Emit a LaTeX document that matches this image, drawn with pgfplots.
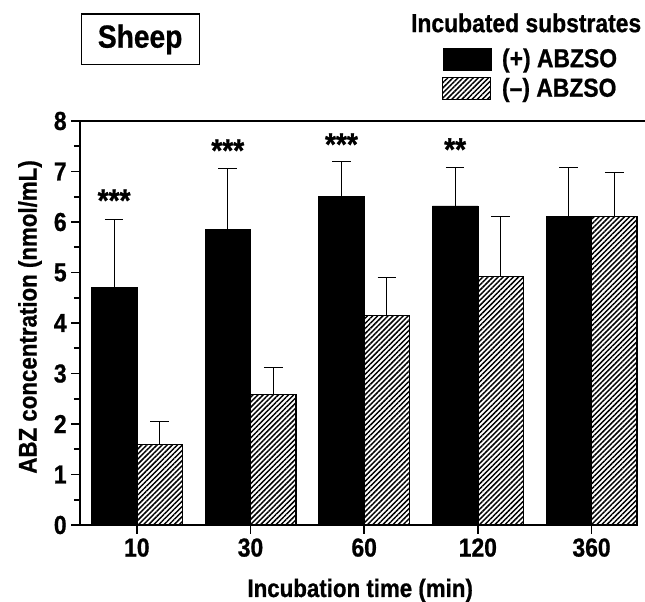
\documentclass[border=0pt]{standalone}
\usepackage{fontspec}
\setmainfont{Liberation Sans}[FakeStretch=0.88, BoldFeatures={FakeBold=0.8}]
\usepackage{pgfplots}
\usepackage{pgfplotstable}
\pgfplotsset{compat=1.18}
\usetikzlibrary{patterns.meta}

% mean and upper SD per incubation time (index 0..4 = 10,30,60,120,360 min)
\pgfplotstableread{
x plus pluserr minus minuserr
0 4.70 1.35 1.59 0.46
1 5.86 1.20 2.58 0.53
2 6.50 0.70 4.14 0.76
3 6.32 0.76 4.92 1.19
4 6.11 0.97 6.11 0.87
}\abzdata

\tikzset{hatch/.style={pattern={Lines[angle=45,distance=2.7pt,line width=1.1pt]}}}
\pgfplotsset{updev/.style={error bars/y dir=plus, error bars/y explicit,
  error bars/error bar style={line width=0.8pt, black, solid},
  error bars/error mark=-,
  error bars/error mark options={rotate=90, line width=0.8pt, mark size=7pt, black, solid}}}

\begin{document}
\begin{tikzpicture}
\begin{axis}[
  scale only axis, width=417.75pt, height=303pt,
  xmin=-0.5, xmax=4.4, ymin=0, ymax=8,
  axis x line*=bottom, axis y line*=left,
  axis line style={line width=1.5pt},
  xtick={0,1,2,3,4}, xticklabels={10,30,60,120,360},
  ytick={0,1,...,8}, minor y tick num=1,
  tick align=outside,
  major tick length=6.5pt, minor tick length=4.5pt,
  every tick/.style={black, line width=1.2pt},
  tick label style={font=\bfseries\fontsize{19.5}{22}\selectfont},
  /pgf/number format/assume math mode=true,
  xlabel={Incubation time (min)},
  ylabel={ABZ concentration (nmol/mL)},
  label style={font=\bfseries\fontsize{19}{22}\selectfont},
  xlabel style={at={(axis description cs:0.503,-0.162)}, anchor=center},
  ylabel style={at={(axis description cs:-0.0898,0.515)}, anchor=center},
  clip=false,
  legend image code/.code={\draw[#1] (0pt,-8.25pt) rectangle (36pt,8.25pt);},
  legend style={draw=none, fill=none, at={(0.650,1.187)}, anchor=north west,
    font=\bfseries\fontsize{19.5}{22}\selectfont, row sep=2.5pt, inner sep=0pt,
    /tikz/every odd column/.append style={column sep=6pt}},
  legend cell align=left,
]
\addplot[ybar, bar width=0.4, bar shift=0pt, fill=black, draw=black, forget plot, updev]
  table[x expr=\thisrow{x}-0.2, y=plus, y error=pluserr]{\abzdata};
\addplot[ybar, bar width=0.4, bar shift=0pt, fill=white, hatch, draw=black, line width=0.8pt, forget plot, updev]
  table[x expr=\thisrow{x}+0.2, y=minus, y error=minuserr]{\abzdata};
\addlegendimage{fill=black, draw=black}
\addlegendentry{(+) ABZSO}
\addlegendimage{fill=white, hatch, draw=black, line width=0.8pt}
\addlegendentry{(–) ABZSO}
\draw[line width=1.5pt] (rel axis cs:0,1) -- (rel axis cs:1.02,1);
\node[font=\bfseries\fontsize{24}{26}\selectfont, yshift=-5pt] at (axis cs:-0.2,6.56) {***};
\node[font=\bfseries\fontsize{24}{26}\selectfont, yshift=-5pt] at (axis cs:0.8,7.55) {***};
\node[font=\bfseries\fontsize{24}{26}\selectfont, yshift=-5pt] at (axis cs:1.8,7.67) {***};
\node[font=\bfseries\fontsize{24}{26}\selectfont, yshift=-5pt] at (axis cs:2.8,7.57) {**};
\node[font=\bfseries\fontsize{19.5}{22}\selectfont] at (rel axis cs:0.801,1.243) {Incubated substrates};
\node[draw, line width=0.9pt, minimum width=88.5pt, minimum height=38pt,
  font=\bfseries\fontsize{24}{28}\selectfont] at (rel axis cs:0.108,1.202) {Sheep};
\coordinate (bl) at (rel axis cs:0,0);
\end{axis}
\pgfresetboundingbox
\path[use as bounding box] ([xshift=-60pt,yshift=-57.75pt]bl) rectangle ([xshift=423.75pt,yshift=393.75pt]bl);
\end{tikzpicture}
\end{document}
